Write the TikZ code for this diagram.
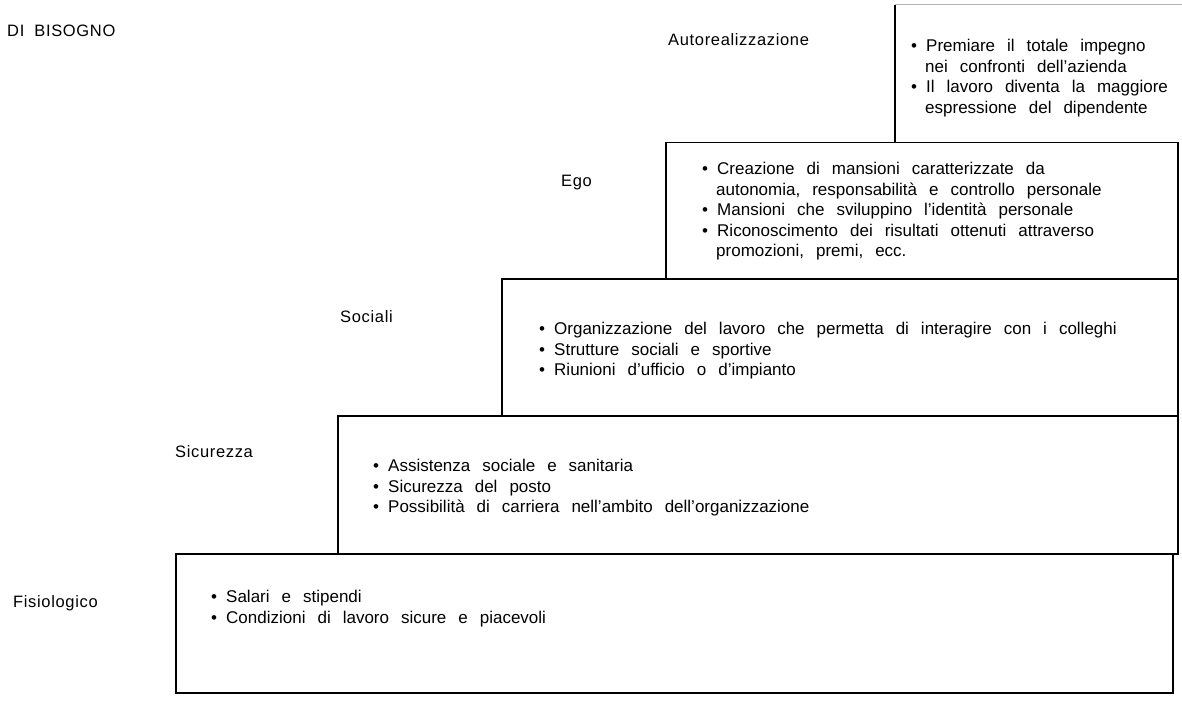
\documentclass[tikz,border=0pt]{standalone}
\usepackage{fontspec}
\setmainfont{Liberation Sans}
\newfontfamily\lblfamily[LetterSpace=4]{Liberation Sans}
\newcommand{\bul}{\makebox[15pt][l]{\rule{0pt}{12pt}•}}
\newcommand{\ind}{\hspace*{14pt}}
\begin{document}
\begin{tikzpicture}[x=1pt,y=-1pt,
  box/.style={draw, line width=1.5pt, anchor=north west, inner sep=0pt},
  lbl/.style={anchor=base west, inner sep=0pt, font={\lblfamily\fontsize{16.5}{18}\selectfont\spaceskip=10pt}},
  txt/.style={anchor=north west, inner sep=0pt, align=left,
    font={\fontsize{17}{20.5}\selectfont\spaceskip=12pt plus 1pt}}]
\useasboundingbox[fill=white] (0,0) rectangle (1182,703);
% boxes
\node[box, draw=none, minimum width=287pt, minimum height=137pt] (b1) at (895,5) {};
\draw[line width=1.5pt] (b1.north west) -- (b1.south west);
\draw[black!30, line width=1pt] (b1.north west) -- (b1.north east);
\node[box, minimum width=512pt, minimum height=136pt] (b2) at (665,142) {};
\node[box, minimum width=676pt, minimum height=137pt] (b3) at (501,278) {};
\node[box, minimum width=840pt, minimum height=138pt] (b4) at (337,415) {};
\node[box, minimum width=997pt, minimum height=139pt] (b5) at (175,553) {};
% labels
\node[lbl] (t0) at (7,37) {DI BISOGNO};
\node[lbl] (l1) at (668,46) {Autorealizzazione};
\node[lbl] (l2) at (561,187) {Ego};
\node[lbl] (l3) at (340,322) {Sociali};
\node[lbl] (l4) at (175,457) {Sicurezza};
\node[lbl] (l5) at (13,607) {Fisiologico};
% texts (first baseline = y + 12)
\node[txt] (x1) at (911,39) {\bul Premiare il totale impegno\\ \ind nei confronti dell’azienda\\ \bul Il lavoro diventa la maggiore\\ \ind espressione del dipendente};
\node[txt] (x2) at (702,162) {\bul Creazione di mansioni caratterizzate da\\ \ind autonomia, responsabilità e controllo personale\\ \bul Mansioni che sviluppino l’identità personale\\ \bul Riconoscimento dei risultati ottenuti attraverso\\ \ind promozioni, premi, ecc.};
\node[txt] (x3) at (539,322) {\bul Organizzazione del lavoro che permetta di interagire con i colleghi\\ \bul Strutture sociali e sportive\\ \bul Riunioni d’ufficio o d’impianto};
\node[txt] (x4) at (373,459) {\bul Assistenza sociale e sanitaria\\ \bul Sicurezza del posto\\ \bul Possibilità di carriera nell’ambito dell’organizzazione};
\node[txt] (x5) at (211,590) {\bul Salari e stipendi\\ \bul Condizioni di lavoro sicure e piacevoli};
\end{tikzpicture}
\end{document}
